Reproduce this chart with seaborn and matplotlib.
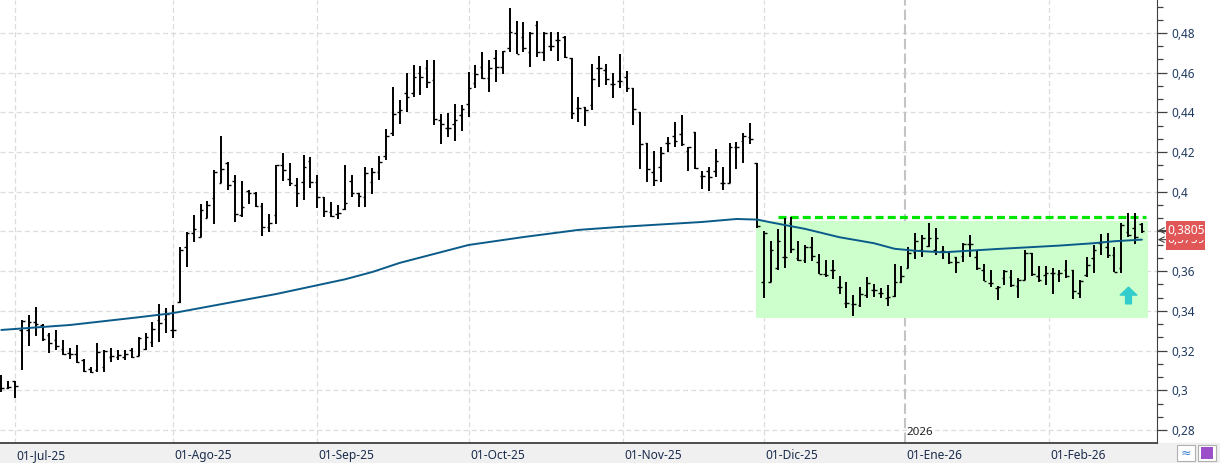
import numpy as np
import pandas as pd
import matplotlib
matplotlib.use('Agg')
import matplotlib.pyplot as plt
import matplotlib.transforms as mtransforms
from matplotlib.patches import Rectangle
from matplotlib.path import Path
from matplotlib.ticker import AutoMinorLocator, FuncFormatter
import seaborn as sns

# sesiones (bolsa de Madrid), del 27-jun-25 al 19-feb-26
festivos = ['2025-12-25', '2025-12-26', '2026-01-01']
fechas = pd.bdate_range('2025-06-27', '2026-02-19')
fechas = fechas[~fechas.isin(pd.to_datetime(festivos))]

aperturas = [
    .3010, .3010, .3049,
    .3304, .3304, .3342, .3329, .3278, .3253, .3206, .3189, .3183, .3153, .3106, .3102,
    .3116, .3166, .3169, .3169, .3203, .3173, .3208, .3245, .3355, .3358,
    .3304, .3447, .3724, .3794, .3771, .3866, .3967, .4043, .4143, .4054, .3883, .4002,
    .3994, .3928, .3821, .3883, .4135, .4063, .4034, .4051, .4157,
    .4048, .3972, .3900, .3888, .3912, .4054, .3992, .3972, .4050, .4100, .4180, .4294,
    .4404, .4496, .4496, .4597, .4622, .4563, .4362, .4320, .4342, .4387,
    .4442, .4546, .4630, .4571, .4672, .4627, .4723, .4798, .4778, .4703, .4840, .4706,
    .4735, .4765, .4781, .4672, .4420, .4425, .4437, .4622, .4613, .4543, .4558,
    .4580, .4521, .4400, .4244, .4098, .4123, .4244, .4281, .4291, .4205, .4300, .4081,
    .4105, .4105, .4043, .4043, .4224, .4258, .4274, .4143,
    .3544, .3547, .3614, .3673, .3841, .3665, .3656, .3724, .3648, .3584, .3606, .3522,
    .3438, .3435, .3430, .3480, .3505, .3492, .3463, .3475, .3547,
    .3614, .3698, .3707, .3727, .3707, .3704, .3699, .3673, .3677, .3736, .3673, .3606,
    .3539, .3514, .3564, .3572, .3525, .3556, .3690, .3576, .3581,
    .3592, .3586, .3606, .3606, .3488, .3581, .3665, .3740, .3724, .3682, .3614, .3799,
    .3816, .3838,
]
maximos = [
    .3077, .3049, .3049,
    .3356, .3379, .3418, .3334, .3287, .3304, .3253, .3211, .3228, .3156, .3116, .3236,
    .3203, .3211, .3203, .3203, .3211, .3267, .3287, .3346, .3435, .3413,
    .3430, .3724, .3796, .3883, .3937, .3953, .4110, .4281, .4152, .4085, .4054, .4009,
    .4001, .3945, .3886, .4135, .4197, .4147, .4068, .4185, .4177,
    .4085, .3975, .3950, .3933, .4135, .4085, .3996, .4123, .4120, .4180, .4315, .4526,
    .4462, .4600, .4639, .4634, .4664, .4664, .4392, .4398, .4442, .4437,
    .4605, .4639, .4702, .4664, .4714, .4711, .4924, .4860, .4854, .4803, .4860, .4803,
    .4803, .4803, .4785, .4672, .4479, .4425, .4644, .4684, .4644, .4600, .4694,
    .4608, .4521, .4400, .4244, .4205, .4224, .4278, .4350, .4387, .4227, .4300, .4106,
    .4123, .4214, .4123, .4248, .4253, .4298, .4345, .4143,
    .3803, .3754, .3813, .3867, .3875, .3754, .3732, .3771, .3687, .3656, .3656, .3575,
    .3546, .3480, .3522, .3569, .3536, .3514, .3530, .3636, .3626,
    .3724, .3791, .3782, .3844, .3819, .3727, .3704, .3673, .3744, .3782, .3704, .3636,
    .3606, .3526, .3606, .3606, .3564, .3707, .3690, .3626, .3626,
    .3614, .3606, .3656, .3606, .3556, .3673, .3732, .3786, .3791, .3724, .3841, .3891,
    .3891, .3841,
]
minimos = [
    .2993, .3005, .2960,
    .3102, .3225, .3274, .3250, .3186, .3203, .3178, .3158, .3136, .3094, .3086, .3094,
    .3094, .3144, .3153, .3153, .3161, .3173, .3203, .3220, .3242, .3287,
    .3262, .3438, .3623, .3749, .3771, .3866, .3836, .4043, .4009, .3850, .3871, .3939,
    .3922, .3779, .3799, .3838, .4056, .4029, .3925, .3959, .4017,
    .3917, .3875, .3875, .3861, .3908, .3975, .3922, .3922, .3990, .4060, .4160, .4283,
    .4342, .4404, .4479, .4488, .4525, .4337, .4241, .4278, .4258, .4308,
    .4375, .4525, .4567, .4504, .4555, .4594, .4703, .4693, .4703, .4627, .4681, .4661,
    .4711, .4661, .4672, .4365, .4353, .4331, .4412, .4526, .4538, .4471, .4521,
    .4504, .4336, .4113, .4051, .4031, .4051, .4202, .4227, .4232, .4106, .4113, .4012,
    .4006, .4076, .4009, .4043, .4113, .4143, .4239, .3816,
    .3463, .3544, .3606, .3614, .3690, .3653, .3643, .3653, .3585, .3572, .3559, .3483,
    .3413, .3376, .3418, .3463, .3472, .3463, .3426, .3472, .3542,
    .3614, .3660, .3673, .3724, .3682, .3661, .3636, .3593, .3648, .3673, .3606, .3552,
    .3519, .3455, .3530, .3522, .3467, .3556, .3576, .3547, .3530,
    .3485, .3547, .3564, .3460, .3463, .3569, .3593, .3682, .3665, .3594, .3593, .3774,
    .3735, .3791,
]
cierres = [
    .3010, .3015, .3020,
    .3348, .3342, .3333, .3258, .3237, .3225, .3183, .3183, .3144, .3099, .3094, .3195,
    .3200, .3173, .3178, .3183, .3169, .3262, .3270, .3307, .3341, .3383,
    .3304, .3707, .3794, .3811, .3908, .3934, .4098, .4113, .4034, .3887, .3922, .3994,
    .3928, .3821, .3841, .4135, .4110, .4043, .3992, .4123, .4048,
    .3972, .3905, .3880, .3891, .3945, .3996, .3979, .4097, .4100, .4150, .4281, .4390,
    .4412, .4476, .4577, .4580, .4555, .4367, .4342, .4320, .4362, .4415,
    .4521, .4593, .4571, .4622, .4627, .4711, .4806, .4695, .4723, .4798, .4703, .4798,
    .4735, .4765, .4681, .4399, .4420, .4412, .4566, .4622, .4566, .4543, .4558,
    .4521, .4417, .4241, .4113, .4060, .4194, .4244, .4258, .4239, .4224, .4118, .4081,
    .4076, .4155, .4043, .4224, .4224, .4281, .4266, .3830,
    .3790, .3707, .3752, .3673, .3710, .3656, .3724, .3677, .3586, .3581, .3606, .3522,
    .3438, .3435, .3485, .3539, .3505, .3489, .3472, .3544, .3576,
    .3690, .3754, .3766, .3766, .3766, .3704, .3648, .3648, .3737, .3736, .3614, .3552,
    .3539, .3519, .3603, .3530, .3555, .3690, .3586, .3556, .3592,
    .3589, .3592, .3576, .3502, .3552, .3631, .3707, .3749, .3682, .3598, .3833, .3782,
    .3774, .3805,
]

# media movil
mm_sesion = [0, 10, 20, 25, 30, 40, 50, 54, 58, 68, 76, 84, 90, 102, 107, 110, 112,
             117, 122, 127, 130, 133, 137, 145, 154, 159, 162, 166]
mm_valor = [.3304, .3329, .3368, .3389, .3421, .3485, .3559, .3596, .3642, .3732, .3772,
            .3808, .3823, .3848, .3863, .3860, .3846, .3813, .3771, .3741, .3713, .3703,
            .3695, .3712, .3729, .3741, .3751, .3759]

meses = ['01-Jul-25', '01-Ago-25', '01-Sep-25', '01-Oct-25', '01-Nov-25',
         '01-Dic-25', '01-Ene-26', '01-Feb-26']
inicio_mes = ['2025-07-01', '2025-08-01', '2025-09-01', '2025-10-01', '2025-11-01',
              '2025-12-01', '2026-01-01', '2026-02-01']

# zona lateral y resistencia
zona_ini, zona_fin = 110, 167
zona_min, zona_max = 0.3366, 0.3854
resistencia = 0.3872
res_ini, res_fin = 113, 166.6
senal_sesion, senal_valor = 164, 0.348

x = np.arange(len(fechas))
df = pd.DataFrame({'x': x, 'o': aperturas, 'h': maximos, 'l': minimos, 'c': cierres})

pos_mes = []
for d in pd.to_datetime(inicio_mes):
    i = fechas.searchsorted(d)
    pos_mes.append(i if fechas[i] == d else i - 0.5)

sns.set_style('white')
plt.rcParams['font.family'] = ['Noto Sans', 'DejaVu Sans']

fig = plt.figure(figsize=(12.2, 4.63), dpi=100)
ax = fig.add_axes([0, 20 / 463, 1157 / 1220, 443 / 463])
fig.patches.append(Rectangle((0, 0), 1, 20 / 463, transform=fig.transFigure,
                             color='#f0f0f0', zorder=-1))

ax.set_xlim(-0.19, 168.2)
ax.set_ylim(0.27345, 0.49662)

# rejilla
yt = np.round(np.arange(0.28, 0.481, 0.02), 2)
for v in yt:
    ax.axhline(v, color='#dcdcdc', lw=0.9, ls=(0, (4, 2.5)), zorder=0)
for p in pos_mes:
    if p == pos_mes[6]:
        ax.axvline(p, color='#c4c4c4', lw=1.5, ls=(0, (5, 2)), zorder=0)
    else:
        ax.axvline(p, color='#dcdcdc', lw=0.9, ls=(0, (4, 2.5)), zorder=0)

ax.add_patch(Rectangle((zona_ini - 0.15, zona_min), zona_fin - zona_ini, zona_max - zona_min,
                       color='#ccffcc', zorder=1, lw=0))
ax.plot([res_ini, res_fin], [resistencia, resistencia], color='#00e600', lw=2.3,
        ls=(0, (2.5, 1.3)), zorder=2)

# barras OHLC
ax.vlines(df['x'], df['l'], df['h'], color='black', lw=1.4, zorder=3)
ax.hlines(df['o'], df['x'] - 0.38, df['x'], color='black', lw=1.0, zorder=3)
ax.hlines(df['c'], df['x'], df['x'] + 0.38, color='black', lw=1.0, zorder=3)

sns.lineplot(x=mm_sesion, y=mm_valor, color='#0b5b8a', lw=1.4, ax=ax, zorder=4)

flecha = Path([(0, 1), (1, 0.05), (0.35, 0.05), (0.35, -1), (-0.35, -1), (-0.35, 0.05),
               (-1, 0.05), (0, 1)], closed=True)
ax.plot([senal_sesion], [senal_valor], marker=flecha, ms=12, color='#33cccc',
        ls='none', zorder=5)

# ejes
for s in ['left', 'top']:
    ax.spines[s].set_visible(False)
ax.spines['right'].set_color('#404040')
ax.spines['bottom'].set_color('#404040')
ax.spines['bottom'].set_linewidth(1.3)

ax.yaxis.tick_right()
ax.set_yticks(yt)
ax.yaxis.set_minor_locator(AutoMinorLocator(3))
ax.yaxis.set_major_formatter(FuncFormatter(lambda v, p: ('%g' % round(v, 2)).replace('.', ',')))
ax.tick_params(axis='y', which='major', length=7, width=0.9, color='#404040',
               labelcolor='#1f3a60', labelsize=8.5, pad=3)
ax.tick_params(axis='y', which='minor', length=4, width=0.9, color='#404040')

ax.set_xticks(pos_mes)
ax.set_xticklabels([])
ax.tick_params(axis='x', length=8, width=0.9, color='#404040')
for p, lab in zip(pos_mes, meses):
    ax.text(p + 0.2, -0.029, lab, transform=ax.get_xaxis_transform(), ha='left',
            va='center', fontsize=8.6, color='#1a2c4c')
ax.text(pos_mes[6] + 0.2, 0.023, '2026', transform=ax.get_xaxis_transform(), ha='left',
        va='center', fontsize=8.3, color='#222222')
ax.set_xlabel('')
ax.set_ylabel('')

# etiquetas de ultimo valor (la del cierre tapa en parte a la de la media)
trans = mtransforms.blended_transform_factory(ax.transAxes, ax.transData)
etiquetas = [(mm_valor[-1], 10), (cierres[-1], 12)]
for v, z in etiquetas:
    ax.add_patch(Rectangle((1.0078, v - 0.0050), 0.0335, 0.0100, transform=trans,
                           color='#e15757', clip_on=False, zorder=z, lw=0))
    ax.text(1.0088, v, ('%.4f' % v).replace('.', ','), transform=trans, color='white',
            fontsize=8.6, ha='left', va='center', zorder=z + 1, clip_on=False)
    ax.annotate('', xy=(1.0005, v), xytext=(1.0075, v), xycoords=trans, textcoords=trans,
                arrowprops=dict(arrowstyle='->', color='#444444', lw=0.8,
                                shrinkA=0, shrinkB=0), annotation_clip=False)

# iconos abajo a la derecha
fig.patches.append(Rectangle((1177 / 1220, 2 / 463), 18 / 1220, 16 / 463,
                             transform=fig.transFigure, facecolor='white',
                             edgecolor='#b0b0b0', lw=0.8))
fig.text(1186 / 1220, 10 / 463, '≈', color='#3a7fd0', fontsize=9, ha='center', va='center')
fig.patches.append(Rectangle((1198 / 1220, 2 / 463), 18 / 1220, 16 / 463,
                             transform=fig.transFigure, facecolor='white',
                             edgecolor='#b0b0b0', lw=0.8))
fig.patches.append(Rectangle((1201 / 1220, 4 / 463), 12 / 1220, 12 / 463,
                             transform=fig.transFigure, facecolor='#9b4fc9', lw=0))

fig.savefig('out.png', dpi=100)
plt.close()
